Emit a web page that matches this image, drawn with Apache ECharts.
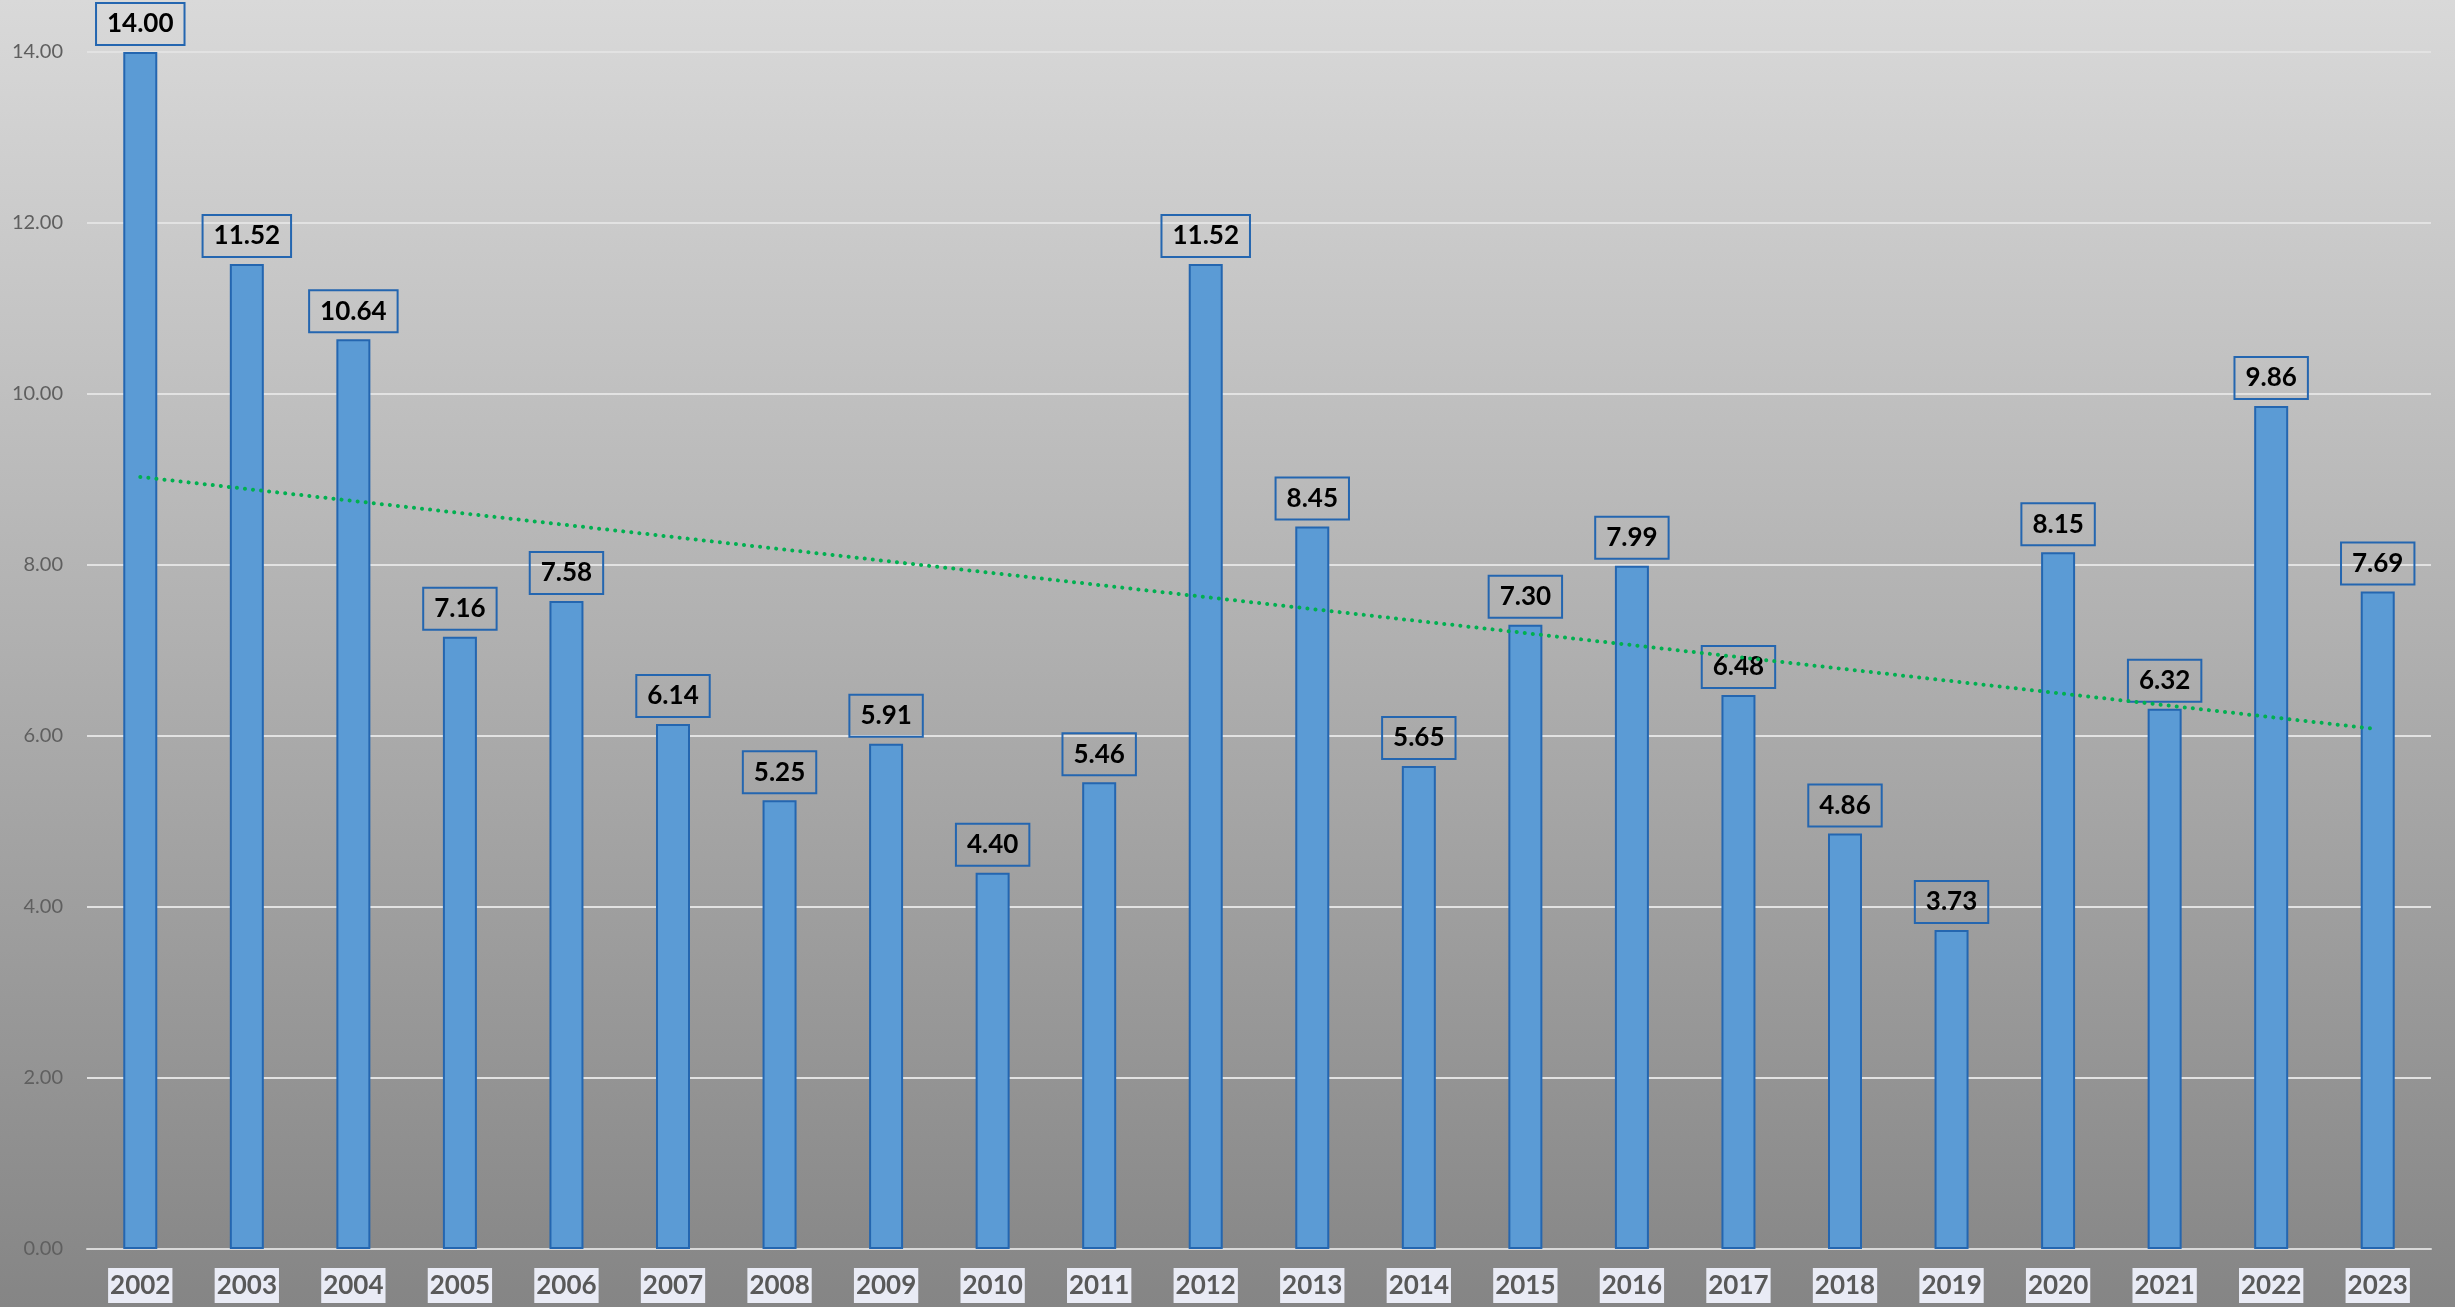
<!DOCTYPE html>
<html>
<head>
<meta charset="utf-8">
<title>Chart</title>
<script src="https://cdn.jsdelivr.net/npm/echarts@6/dist/echarts.min.js"></script>
<style>
  html, body { margin: 0; padding: 0; }
  #chart { width: 2455px; height: 1307px; }
</style>
</head>
<body>
<div id="chart"></div>
<script>
const years = ['2002', '2003', '2004', '2005', '2006', '2007', '2008', '2009', '2010', '2011', '2012',
  '2013', '2014', '2015', '2016', '2017', '2018', '2019', '2020', '2021', '2022', '2023']
const values = [14.00, 11.52, 10.64, 7.16, 7.58, 6.14, 5.25, 5.91, 4.40, 5.46, 11.52,
  8.45, 5.65, 7.30, 7.99, 6.48, 4.86, 3.73, 8.15, 6.32, 9.86, 7.69]
// trend line end points
const trendPoints = [['2002', 9.03], ['2023', 6.08]]

const chartEl = document.getElementById('chart')
const myChart = echarts.init(chartEl)
const font = 'Lato, "Open Sans", sans-serif'

const option = {
  animation: false,
  backgroundColor: new echarts.graphic.LinearGradient(0, 0, 0, 1, [
    { offset: 0, color: '#d9d9d9' },
    { offset: 1, color: '#858585' },
  ]),
  grid: {
    left: 87,
    right: 24,
    top: 52,
    bottom: 58,
  },
  xAxis: {
    type: 'category',
    data: years,
    axisTick: { show: false },
    axisLine: { lineStyle: { color: '#d9d9d9', width: 2 } },
    axisLabel: {
      margin: 19,
      fontFamily: font,
      fontSize: 26,
      fontWeight: 'bold',
      color: '#595959',
      backgroundColor: '#e9ebf5',
      padding: [5, 2, 4, 2],
    },
  },
  yAxis: {
    type: 'value',
    min: 0,
    max: 14,
    interval: 2,
    axisLabel: {
      margin: 24,
      fontFamily: font,
      fontSize: 20,
      color: '#5f5f5f',
      formatter: (v) => v.toFixed(2),
    },
    axisLine: { show: false },
    axisTick: { show: false },
    splitLine: { lineStyle: { color: '#e2e2e2', width: 2 } },
  },
  series: [
    {
      type: 'bar',
      data: values,
      barWidth: 34,
      itemStyle: {
        color: '#5b9bd5',
        borderColor: '#2466b0',
        borderWidth: 2,
      },
      label: {
        show: true,
        position: 'top',
        distance: 7,
        fontFamily: font,
        fontSize: 26,
        fontWeight: 'bold',
        color: '#000000',
        borderColor: '#2466b0',
        borderWidth: 2,
        padding: [8, 11, 8, 11],
        lineHeight: 26,
        formatter: (p) => p.value.toFixed(2),
      },
      z: 2,
    },
    {
      type: 'line',
      data: trendPoints,
      symbol: 'none',
      lineStyle: {
        color: '#00b050',
        width: 4,
        type: [0.1, 8],
        cap: 'round',
      },
      z: 3,
    },
  ],
}

myChart.setOption(option)
window.addEventListener('resize', () => {
  myChart.resize()
})
</script>
</body>
</html>
